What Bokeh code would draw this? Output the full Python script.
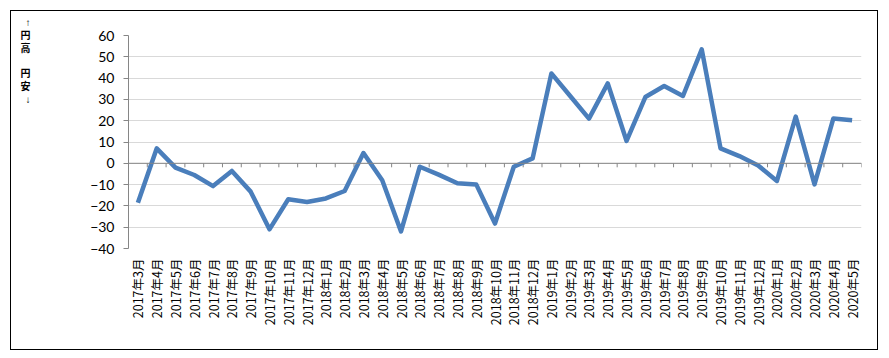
from math import pi
import numpy as np
from bokeh.plotting import figure
from bokeh.layouts import row
from bokeh.models import FixedTicker, Span, Range1d, ColumnDataSource, LinearAxis
from bokeh.embed import file_html
from bokeh.resources import INLINE

months = [
    "2017年3月", "2017年4月", "2017年5月", "2017年6月", "2017年7月", "2017年8月",
    "2017年9月", "2017年10月", "2017年11月", "2017年12月",
    "2018年1月", "2018年2月", "2018年3月", "2018年4月", "2018年5月", "2018年6月",
    "2018年7月", "2018年8月", "2018年9月", "2018年10月", "2018年11月", "2018年12月",
    "2019年1月", "2019年2月", "2019年3月", "2019年4月", "2019年5月", "2019年6月",
    "2019年7月", "2019年8月", "2019年9月", "2019年10月", "2019年11月", "2019年12月",
    "2020年1月", "2020年2月", "2020年3月", "2020年4月", "2020年5月",
]
values = [
    -18.5, 7.0, -2.0, -5.5, -10.7, -3.6, -13.3, -31.0, -16.9, -18.2,
    -16.5, -13.0, 4.8, -8.0, -32.0, -1.6, -5.3, -9.4, -9.9, -28.3, -1.6, 2.3,
    42.2, 31.6, 21.0, 37.5, 10.5, 31.1, 36.3, 31.6, 53.5, 7.0, 3.4, -1.0,
    -8.3, 21.9, -9.9, 21.0, 20.2,
]
y_ticks = [-40, -30, -20, -10, 0, 10, 20, 30, 40, 50, 60]
side_labels = {60: "↑\n円\n高", 36: "円\n安\n↓"}

# layout (px): outer box content from (11, 11) to (877, 349)
OX, OY = 11, 11
W_IN, H_IN = 866, 338
FL, FR, FT, FB = 128, 861, 35, 248   # frame edges in window px
n = len(months)
xs = list(range(n))

p = figure(width=W_IN, height=H_IN, output_backend="svg", toolbar_location=None,
           x_range=Range1d(-0.5, n - 0.5), y_range=Range1d(y_ticks[0], y_ticks[-1]),
           min_border_left=FL - OX, min_border_right=(OX + W_IN) - FR,
           min_border_top=FT - OY, min_border_bottom=(OY + H_IN) - FB,
           background_fill_color="white", border_fill_color="white")
p.outline_line_color = None

p.xgrid.visible = False
p.ygrid.ticker = FixedTicker(ticks=y_ticks)
p.ygrid.grid_line_color = "#D9D9D9"
p.ygrid.grid_line_width = 1

ya = p.yaxis[0]
ya.ticker = FixedTicker(ticks=y_ticks)
ya.axis_line_color = "#868686"
ya.major_tick_line_color = "#868686"
ya.major_tick_out = 5
ya.major_tick_in = 0
ya.minor_tick_line_color = None
ya.major_label_text_font = "Lato"
ya.major_label_text_font_size = "14px"
ya.major_label_text_color = "#000000"
ya.major_label_standoff = 9

# side caption as a second left axis carrying two short multi-line labels
side = LinearAxis(ticker=FixedTicker(ticks=list(side_labels.keys())),
                  major_label_overrides=side_labels)
side.axis_line_color = None
side.major_tick_line_color = None
side.minor_tick_line_color = None
side.major_tick_out = 0
side.major_tick_in = 0
side.major_label_text_font = "Liberation Sans, Noto Sans CJK JP"
side.major_label_text_font_size = "10px"
side.major_label_text_font_style = "bold"
side.major_label_text_color = "#000000"
side.major_label_standoff = 57
p.add_layout(side, "left")

xa = p.xaxis[0]
xa.ticker = FixedTicker(ticks=xs)
xa.major_label_overrides = {i: m for i, m in enumerate(months)}
xa.major_label_orientation = pi / 2
xa.axis_line_color = None
xa.major_tick_line_color = None
xa.minor_tick_line_color = None
xa.major_label_text_font = "Noto Sans CJK JP"
xa.major_label_text_font_size = "12.5px"
xa.major_label_text_color = "#000000"
xa.major_label_standoff = 4

p.add_layout(Span(location=0, dimension="width", line_color="#868686", line_width=1))
bounds = np.arange(n + 1) - 0.5
tick_len = 4 * (y_ticks[-1] - y_ticks[0]) / (FB - FT)
p.segment(x0=bounds, y0=np.zeros(n + 1), x1=bounds, y1=-tick_len * np.ones(n + 1),
          line_color="#868686", line_width=1)

src = ColumnDataSource(dict(x=xs, y=values))
p.line("x", "y", source=src, line_color="#4A7EBB", line_width=4.5, line_join="round")

layout = row(p, margin=(OY, 0, 0, OX), styles={"outline": "1px solid black"})

open("out.html", "w").write(file_html(layout, INLINE))
